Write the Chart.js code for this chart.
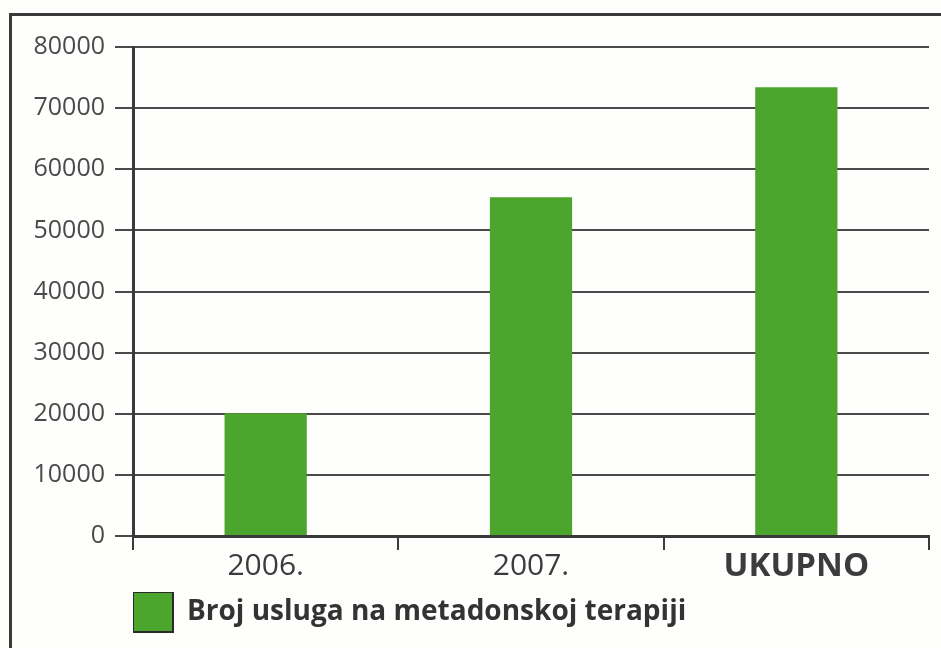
<!DOCTYPE html>
<html>
<head>
<meta charset="utf-8">
<script src="https://cdn.jsdelivr.net/npm/chart.js@4/dist/chart.umd.min.js"></script>
<style>
  html,body{margin:0;padding:0;background:#fefefd;}
  #wrap{position:relative;width:941px;height:648px;overflow:hidden;}
  #frame{position:absolute;left:9px;top:13px;right:-10px;bottom:-10px;border-left:3px solid #3a3a3a;border-top:3px solid #3a3a3a;}
  canvas{position:absolute;left:0;top:0;}
</style>
</head>
<body>
<div id="wrap">
  <div id="frame"></div>
  <canvas id="c" width="941" height="648"></canvas>
</div>
<script>
// podaci
const categories = ['2006.', '2007.', 'UKUPNO'];
const values = [20100, 55400, 73400];
const seriesName = 'Broj usluga na metadonskoj terapiji';
const yTicks = [0, 10000, 20000, 30000, 40000, 50000, 60000, 70000, 80000];

const green = '#4ca52d';
const ink = '#3a3a3a';
const font = '"Open Sans", "DejaVu Sans", sans-serif';

new Chart(document.getElementById('c'), {
  type: 'bar',
  data: {
    labels: categories,
    datasets: [{
      label: seriesName,
      data: values,
      backgroundColor: green,
      borderWidth: 0,
      barPercentage: 0.31,
      categoryPercentage: 1
    }]
  },
  options: {
    responsive: false, animation: false,
    layout: { padding: { top: 47, left: 33, right: 12, bottom: 6 } },
    scales: {
      y: {
        min: 0, max: 80000,
        afterBuildTicks: s => { s.ticks = yTicks.map(v => ({ value: v })); },
        afterFit: s => { s.width = 100; },
        border: { display: true, color: ink, width: 3 },
        grid: { color: '#4a4a4a', lineWidth: 2, tickLength: 18, drawTicks: true },
        ticks: { color: '#4a4a4a', padding: 10, font: { family: font, size: 25 }, callback: v => String(v) }
      },
      x: {
        afterFit: s => { s.height = 56; },
        border: { display: true, color: ink, width: 3 },
        grid: { drawOnChartArea: false, drawTicks: true, tickLength: 14, color: ink, lineWidth: 2, offset: true },
        ticks: {
          color: '#3c3c3c', padding: 0,
          font: ctx => ctx.index === 2
            ? { family: font, size: 33, weight: 'bold', lineHeight: 1.0 }
            : { family: font, size: 30, lineHeight: 1.13 }
        }
      }
    },
    plugins: {
      tooltip: { enabled: false },
      legend: {
        position: 'bottom', align: 'start', fullSize: false, maxHeight: 50,
        labels: {
          boxWidth: 40, boxHeight: 40, padding: 0, color: '#333',
          font: { family: font, size: 28, weight: 'bold' },
          generateLabels: chart => Chart.defaults.plugins.legend.labels.generateLabels(chart)
            .map(l => ({ ...l, lineWidth: 2, strokeStyle: '#2b2b2b' }))
        }
      }
    }
  }
});
</script>
</body>
</html>
